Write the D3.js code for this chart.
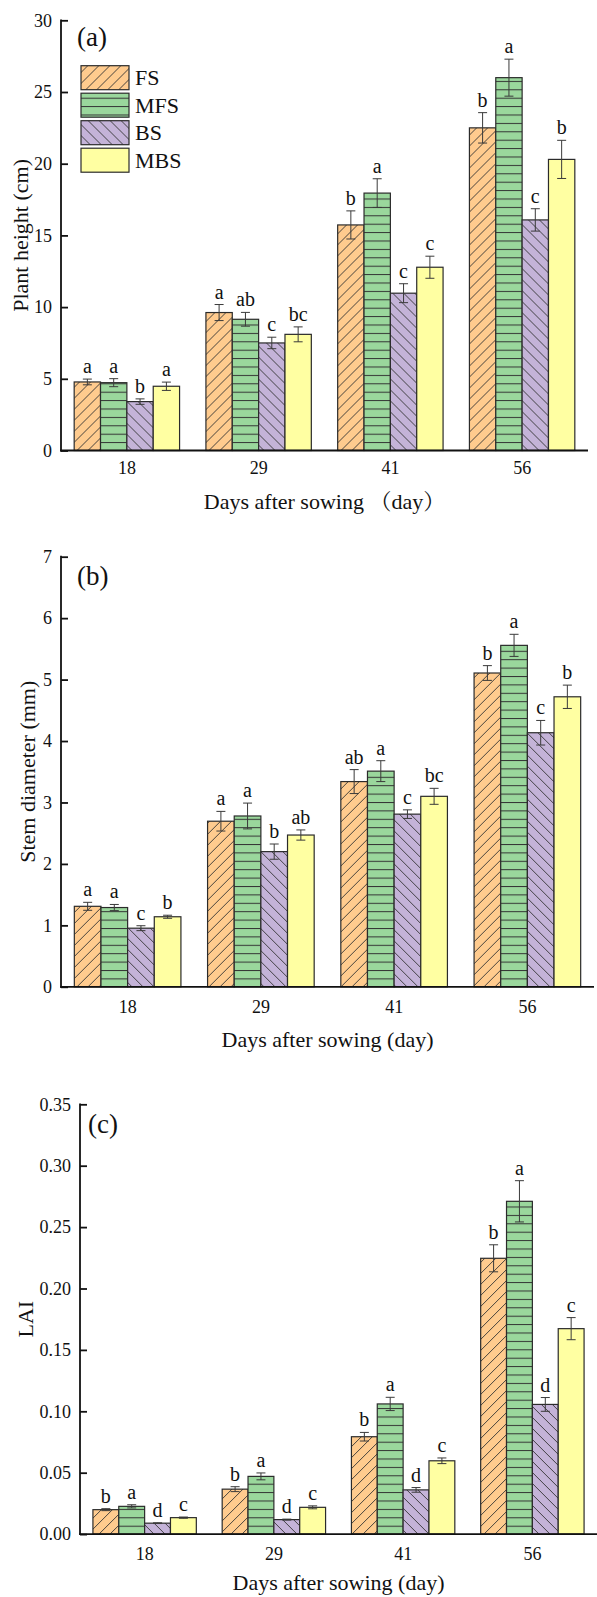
<!DOCTYPE html>
<html>
<head>
<meta charset="utf-8">
<script src="https://cdn.jsdelivr.net/npm/d3@7"></script>
<style>
  body { margin: 0; background: #ffffff; }
  svg { display: block; }
  text { font-family: "Liberation Serif", "Times New Roman", "Noto Serif CJK SC", "Noto Sans CJK SC", serif; fill: #111; }
</style>
</head>
<body>
<svg id="chart" width="597" height="1597"></svg>
<script>
// ---- data ----
const days = ["18", "29", "41", "56"];
const treatments = ["FS", "MFS", "BS", "MBS"];

// Plant height (cm): one row per treatment, one value per sampling day
const heightMean = [
  [4.78, 9.62, 15.73, 22.5],
  [4.73, 9.15, 17.95, 26.0],
  [3.41, 7.50, 10.97, 16.08],
  [4.48, 8.10, 12.78, 20.3]
];
const heightErr = [
  [0.20, 0.56, 0.98, 1.06],
  [0.28, 0.48, 1.00, 1.29],
  [0.19, 0.40, 0.66, 0.78],
  [0.29, 0.52, 0.77, 1.33]
];
const heightSig = [
  ["a", "a", "b", "b"],
  ["a", "ab", "a", "a"],
  ["b", "c", "c", "c"],
  ["a", "bc", "c", "b"]
];
const heightTicks = [0, 5, 10, 15, 20, 25, 30];

// Stem diameter (mm)
const stemMean = [
  [1.31, 2.695, 3.34, 5.107],
  [1.29, 2.78, 3.51, 5.557],
  [0.954, 2.20, 2.81, 4.135],
  [1.14, 2.47, 3.10, 4.72]
];
const stemErr = [
  [0.065, 0.16, 0.195, 0.12],
  [0.05, 0.21, 0.17, 0.18],
  [0.04, 0.124, 0.07, 0.20],
  [0.025, 0.083, 0.13, 0.19]
];
const stemSig = [
  ["a", "a", "ab", "b"],
  ["a", "a", "a", "a"],
  ["c", "b", "c", "c"],
  ["b", "ab", "bc", "b"]
];
const stemTicks = [0, 1, 2, 3, 4, 5, 6, 7];

// Leaf area index
const laiMean = [
  [0.0199, 0.0366, 0.0793, 0.2246],
  [0.0226, 0.0470, 0.1060, 0.2710],
  [0.0089, 0.0118, 0.0360, 0.1056],
  [0.0134, 0.0218, 0.0597, 0.1673]
];
const laiErr = [
  [0.0008, 0.0020, 0.0035, 0.0110],
  [0.0013, 0.0028, 0.0054, 0.0168],
  [0.0003, 0.0004, 0.0019, 0.0056],
  [0.0005, 0.0012, 0.0023, 0.0090]
];
const laiSig = [
  ["b", "b", "b", "b"],
  ["a", "a", "a", "a"],
  ["d", "d", "d", "d"],
  ["c", "c", "c", "c"]
];
const laiTicks = [0, 0.05, 0.10, 0.15, 0.20, 0.25, 0.30, 0.35];

// ---- styling ----
const fills = ["#FFCB8E", "#9AD79C", "#C4B3D8", "#FFFFA2"];
const hatchKinds = ["fwd", "horiz", "back", "none"];
const edge = "#2b2b2b";

const svg = d3.select("#chart");
const defs = svg.append("defs");

// Hatch patterns, anchored to a given baseline so horizontal lines line up with the axis
function makePatterns(suffix, baseY) {
  const s = 11;
  const f = defs.append("pattern").attr("id", "fwd" + suffix)
    .attr("patternUnits", "userSpaceOnUse").attr("width", s).attr("height", s)
    .attr("patternTransform", `translate(0,${baseY})`);
  f.append("rect").attr("width", s).attr("height", s).attr("fill", fills[0]);
  f.append("path").attr("d", `M0,${s} L${s},0 M-2,2 L2,-2 M${s - 2},${s + 2} L${s + 2},${s - 2}`)
    .attr("stroke", "#333").attr("stroke-width", 0.9);

  const h = 8.4;
  const hz = defs.append("pattern").attr("id", "horiz" + suffix)
    .attr("patternUnits", "userSpaceOnUse").attr("width", 10).attr("height", h)
    .attr("patternTransform", `translate(0,${baseY})`);
  hz.append("rect").attr("width", 10).attr("height", h).attr("fill", fills[1]);
  hz.append("path").attr("d", `M0,0.5 L10,0.5`).attr("stroke", "#333").attr("stroke-width", 1);

  const b = defs.append("pattern").attr("id", "back" + suffix)
    .attr("patternUnits", "userSpaceOnUse").attr("width", s).attr("height", s)
    .attr("patternTransform", `translate(0,${baseY})`);
  b.append("rect").attr("width", s).attr("height", s).attr("fill", fills[2]);
  b.append("path").attr("d", `M0,0 L${s},${s} M-2,${s - 2} L2,${s + 2} M${s - 2},-2 L${s + 2},2`)
    .attr("stroke", "#333").attr("stroke-width", 0.9);
}

function fillFor(i, suffix) {
  return hatchKinds[i] === "none" ? fills[i] : `url(#${hatchKinds[i]}${suffix})`;
}

function drawPanel(cfg) {
  const { id, mean, err, sig, ticks, fmt, x0, x1, yBase, yTop, yTitle, yTitleX,
          xTitle, xTitleY, tickPad, label, labelX, labelY } = cfg;
  makePatterns(id, yBase);
  const g = svg.append("g");

  const x = d3.scaleBand().domain(days).range([x0, x1]).paddingInner(0.2).paddingOuter(0.1);
  const xs = d3.scaleBand().domain(treatments).range([0, x.bandwidth()]).padding(0);
  const y = d3.scaleLinear().domain([ticks[0], ticks[ticks.length - 1]]).range([yBase, yTop]);

  // bars
  treatments.forEach((t, ti) => {
    const gg = g.append("g");
    gg.selectAll("rect").data(days).join("rect")
      .attr("x", d => x(d) + xs(t))
      .attr("y", (d, di) => y(mean[ti][di]))
      .attr("width", xs.bandwidth())
      .attr("height", (d, di) => yBase - y(mean[ti][di]))
      .attr("fill", fillFor(ti, id))
      .attr("stroke", edge).attr("stroke-width", 1.2);
  });

  // error bars and significance letters
  treatments.forEach((t, ti) => {
    days.forEach((d, di) => {
      const cx = x(d) + xs(t) + xs.bandwidth() / 2;
      const m = mean[ti][di], e = err[ti][di];
      const yHi = y(m + e), yLo = y(m - e);
      const eg = g.append("g").attr("stroke", "#3a3a3a").attr("stroke-width", 1);
      eg.append("line").attr("x1", cx).attr("x2", cx).attr("y1", yHi).attr("y2", yLo);
      eg.append("line").attr("x1", cx - 4.5).attr("x2", cx + 4.5).attr("y1", yHi).attr("y2", yHi);
      eg.append("line").attr("x1", cx - 4.5).attr("x2", cx + 4.5).attr("y1", yLo).attr("y2", yLo);
      g.append("text").attr("x", cx).attr("y", Math.min(yHi, y(m)) - 6)
        .attr("text-anchor", "middle").attr("font-size", 20).text(sig[ti][di]);
    });
  });

  // y axis with inward ticks
  const ya = g.append("g").attr("transform", `translate(${x0},0)`)
    .call(d3.axisLeft(y).tickValues(ticks).tickFormat(fmt).tickSize(-7).tickPadding(9));
  ya.select(".domain").remove();
  ya.selectAll(".tick line").attr("stroke", "#111").attr("stroke-width", 1.8);
  ya.selectAll(".tick text").attr("font-size", 18).attr("fill", "#111")
    .style("font-family", '"Liberation Serif", "Times New Roman", serif');
  g.append("line").attr("x1", x0).attr("x2", x0).attr("y1", yBase + 1).attr("y2", yTop - 0.9)
    .attr("stroke", "#111").attr("stroke-width", 1.8);

  // x axis, labels only
  const xa = g.append("g").attr("transform", `translate(0,${yBase})`)
    .call(d3.axisBottom(x).tickSize(0).tickPadding(tickPad));
  xa.select(".domain").remove();
  xa.selectAll(".tick text").attr("font-size", 18).attr("fill", "#111")
    .style("font-family", '"Liberation Serif", "Times New Roman", serif');
  g.append("line").attr("x1", x0 - 0.9).attr("x2", x1).attr("y1", yBase).attr("y2", yBase)
    .attr("stroke", "#111").attr("stroke-width", 1.8);

  // titles
  g.append("text").attr("x", (x0 + x1) / 2).attr("y", xTitleY).attr("text-anchor", "middle")
    .attr("font-size", 22).text(xTitle);
  g.append("text").attr("transform", `translate(${yTitleX},${(yBase + yTop) / 2}) rotate(-90)`)
    .attr("text-anchor", "middle").attr("dy", "0.35em").attr("font-size", 22).text(yTitle);
  g.append("text").attr("x", labelX).attr("y", labelY).attr("font-size", 27).text(label);

  return { x, y, g };
}

// (a) plant height
const pa = drawPanel({
  id: "a", mean: heightMean, err: heightErr, sig: heightSig, ticks: heightTicks,
  fmt: d3.format("d"), x0: 61, x1: 588, yBase: 450.5, yTop: 20.3,
  yTitle: "Plant height (cm)", yTitleX: 20, xTitle: "Days after sowing （day）", xTitleY: 509,
  tickPad: 11, label: "(a)", labelX: 77, labelY: 46
});

// legend in panel (a)
const legend = pa.g.append("g");
treatments.forEach((t, i) => {
  const ly = 65.7 + i * 27.5;
  legend.append("rect").attr("x", 81).attr("y", ly).attr("width", 48).attr("height", 24)
    .attr("fill", fillFor(i, "a")).attr("stroke", edge).attr("stroke-width", 1.2);
  legend.append("text").attr("x", 135).attr("y", ly + 12).attr("dy", "0.35em")
    .attr("font-size", 22).text(t);
});

// (b) stem diameter
drawPanel({
  id: "b", mean: stemMean, err: stemErr, sig: stemSig, ticks: stemTicks,
  fmt: d3.format("d"), x0: 61, x1: 594, yBase: 986.8, yTop: 556.7,
  yTitle: "Stem diameter (mm)", yTitleX: 27, xTitle: "Days after sowing (day)", xTitleY: 1047,
  tickPad: 13, label: "(b)", labelX: 77, labelY: 585
});

// (c) LAI
drawPanel({
  id: "c", mean: laiMean, err: laiErr, sig: laiSig, ticks: laiTicks,
  fmt: d3.format(".2f"), x0: 80, x1: 597, yBase: 1534.1, yTop: 1104.3,
  yTitle: "LAI", yTitleX: 25, xTitle: "Days after sowing (day)", xTitleY: 1590,
  tickPad: 13, label: "(c)", labelX: 88, labelY: 1133
});
</script>
</body>
</html>
